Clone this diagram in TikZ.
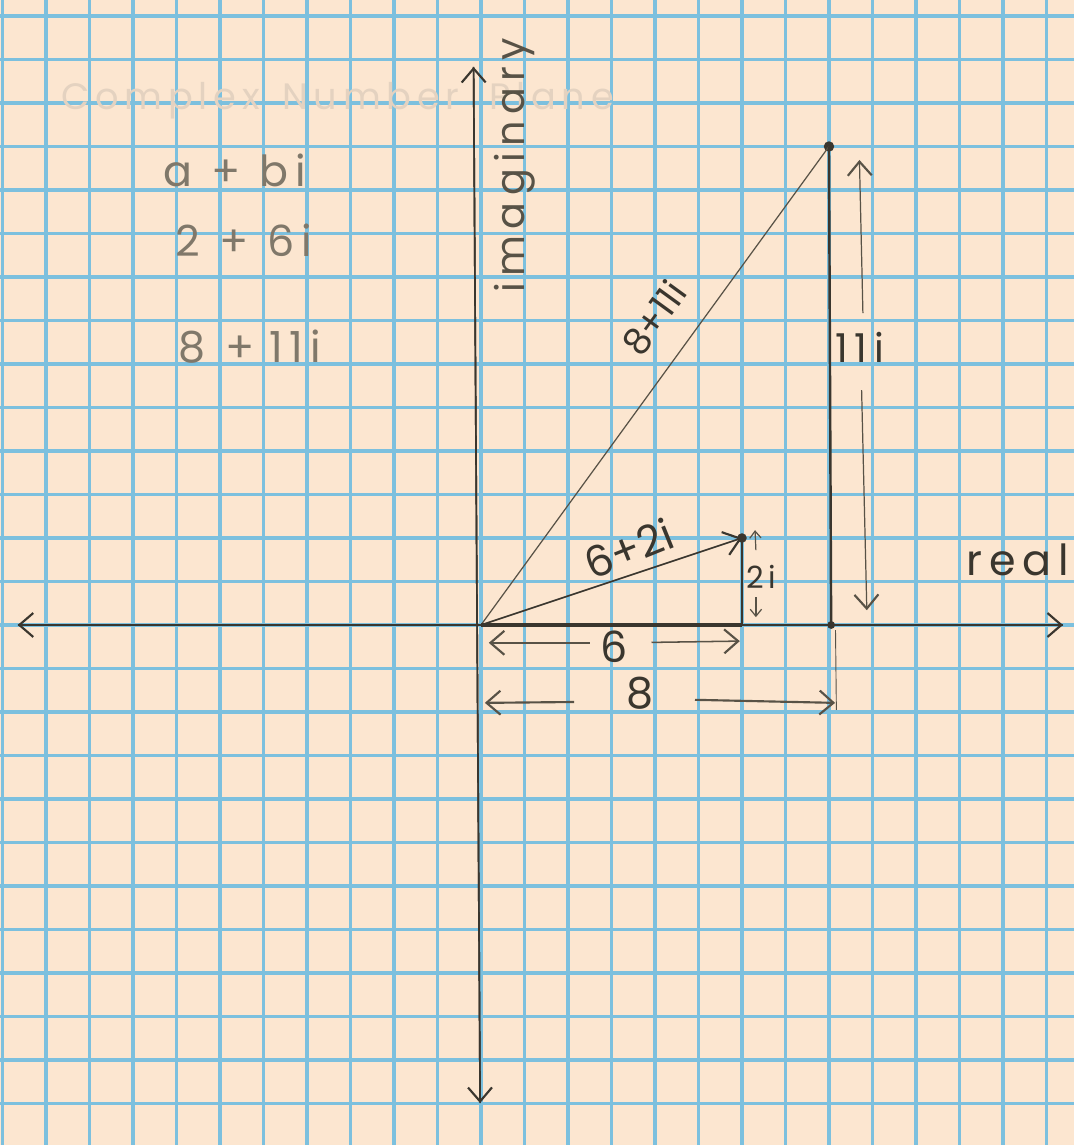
\documentclass[tikz,border=0pt]{standalone}
\usepackage{fontspec}
\setmainfont{Poppins}
\newfontfamily\handfont[LetterSpace=16]{Poppins}
\newfontfamily\plainhand{Poppins}
\usetikzlibrary{arrows.meta}
\definecolor{paper}{RGB}{252,230,208}
\definecolor{gridblue}{RGB}{124,192,222}
\definecolor{pencil}{RGB}{58,54,46}
\definecolor{pencilmid}{RGB}{88,82,70}
\definecolor{pencilgray}{RGB}{128,120,106}
\definecolor{erased}{RGB}{228,210,192}
\begin{document}
\begin{tikzpicture}[x=1cm,y=1cm,
  gridline/.style={draw=gridblue, line width=2.5pt},
  axisline/.style={draw=pencil, line width=1.1pt},
  barb/.style={-{Straight Barb[length=3.2mm,width=5.5mm,line width=1.4pt]}},
  dimline/.style={draw=pencilmid, line width=1pt},
  hand/.style={inner sep=0pt, font=\handfont\fontsize{#1}{#1}\selectfont},
  hand/.default=26,
  plain/.style={inner sep=0pt, font=\plainhand\fontsize{#1}{#1}\selectfont},
  dotmark/.style={circle, fill=pencil, inner sep=0pt, minimum size=#1},
  dotmark/.default=2.6mm
]
\fill[paper] (-11.057,-11.954) rectangle (13.632,14.368);
\useasboundingbox (-11.057,-11.954) rectangle (13.632,14.368);
\draw[gridline] (-11.057,-11.954) grid (13.632,14.368);

% erased title
\node[hand=24, text=erased] (title) at (-3.3,12.05) {Complex\hspace{0.6em}Number\hspace{0.8em}Plane};

% axes
\coordinate (xl) at (-10.65,0);
\coordinate (xr) at (13.38,0);
\coordinate (yt) at (-0.17,12.83);
\coordinate (yb) at (-0.02,-10.99);
\draw[axisline, barb] (xr) -- (xl);
\draw[axisline, barb] (xl) -- (xr);
\draw[axisline, barb] (yb) -- (yt);
\draw[axisline, barb] (yt) -- (yb);

% axis labels
\node[hand=26, text=pencilmid, rotate=90] (imag) at (0.78,10.57) {imaginary};
\node[hand=28, text=pencil] (real) at (12.34,1.49) {real};

% left notes
\node[hand=28, text=pencilgray] (n1) at (-5.66,10.46) {a\hspace{0.45em}+\hspace{0.45em}bi};
\node[hand=28, text=pencilgray] (n2) at (-5.45,8.85) {2\hspace{0.45em}+\hspace{0.45em}6i};
\node[hand=28, text=pencilgray] (n3) at (-5.31,6.39) {8\hspace{0.45em}+\hspace{0.35em}11i};

% points
\coordinate (O) at (0,0);
\node[dotmark=2.4mm] (P) at (8,11) {};
\node[dotmark=1.8mm] (P0) at (8.05,0) {};
\node[dotmark=2.2mm] (Q) at (6,2) {};
\coordinate (Q0) at (6,0);

% triangle 8+11i
\draw[draw=pencilmid, line width=0.8pt] (O) -- (P.center);
\draw[draw=pencil, line width=1.6pt] (P.center) -- (P0.center);
\node[plain=24, text=pencil, rotate=54] (l811) at (3.98,7.05) {8+11i};

% vector 6+2i
\draw[draw=pencil, line width=1.1pt, -{Straight Barb[length=3.6mm,width=5.5mm,line width=1.4pt]}] (O) -- (Q.center);
\draw[draw=pencil, line width=1.5pt] (Q.center) -- (Q0);
\draw[draw=pencil, line width=2.4pt] (O) -- (Q0);
\node[plain=28, text=pencil, rotate=22] (l62) at (3.4,1.76) {6+2i};

% 2i dimension
\coordinate (a2t) at (6.3,2.18);
\coordinate (a2tb) at (6.32,1.72);
\coordinate (a2b) at (6.32,0.18);
\coordinate (a2bt) at (6.32,0.64);
\draw[dimline, line width=0.8pt, -{Straight Barb[length=1.6mm,width=2.6mm]}] (a2tb) -- (a2t);
\draw[dimline, line width=0.8pt, -{Straight Barb[length=1.6mm,width=2.6mm]}] (a2bt) -- (a2b);
\node[hand=20, text=pencil] (l2i) at (6.44,1.10) {2i};

% 11i dimension
\coordinate (d11a) at (8.7,10.69);
\coordinate (d11b) at (8.78,7.17);
\coordinate (d11c) at (8.75,5.40);
\coordinate (d11d) at (8.87,0.34);
\draw[dimline, line width=0.8pt, barb] (d11b) -- (d11a);
\draw[dimline, line width=0.8pt, barb] (d11c) -- (d11d);
\node[hand=26, text=pencil] (l11i) at (8.71,6.39) {11i};

% 6 dimension
\coordinate (d6a) at (0.18,-0.41);
\coordinate (d6b) at (2.5,-0.41);
\coordinate (d6c) at (3.92,-0.40);
\coordinate (d6d) at (5.95,-0.37);
\draw[dimline, barb] (d6b) -- (d6a);
\draw[dimline, barb] (d6c) -- (d6d);
\node[hand=28, text=pencil] (l6) at (3.06,-0.51) {6};

% 8 dimension
\coordinate (d8a) at (0.09,-1.79);
\coordinate (d8b) at (2.14,-1.77);
\coordinate (d8c) at (4.92,-1.72);
\coordinate (d8d) at (8.14,-1.79);
\draw[dimline, line width=1.4pt, barb] (d8b) -- (d8a);
\draw[dimline, line width=1.4pt, barb] (d8c) -- (d8d);
\node[hand=28, text=pencil] (l8) at (3.66,-1.56) {8};

% extension line
\coordinate (e8a) at (8.15,-0.12);
\coordinate (e8b) at (8.17,-1.95);
\draw[draw=pencilmid, line width=0.6pt] (e8a) -- (e8b);
\end{tikzpicture}
\end{document}
